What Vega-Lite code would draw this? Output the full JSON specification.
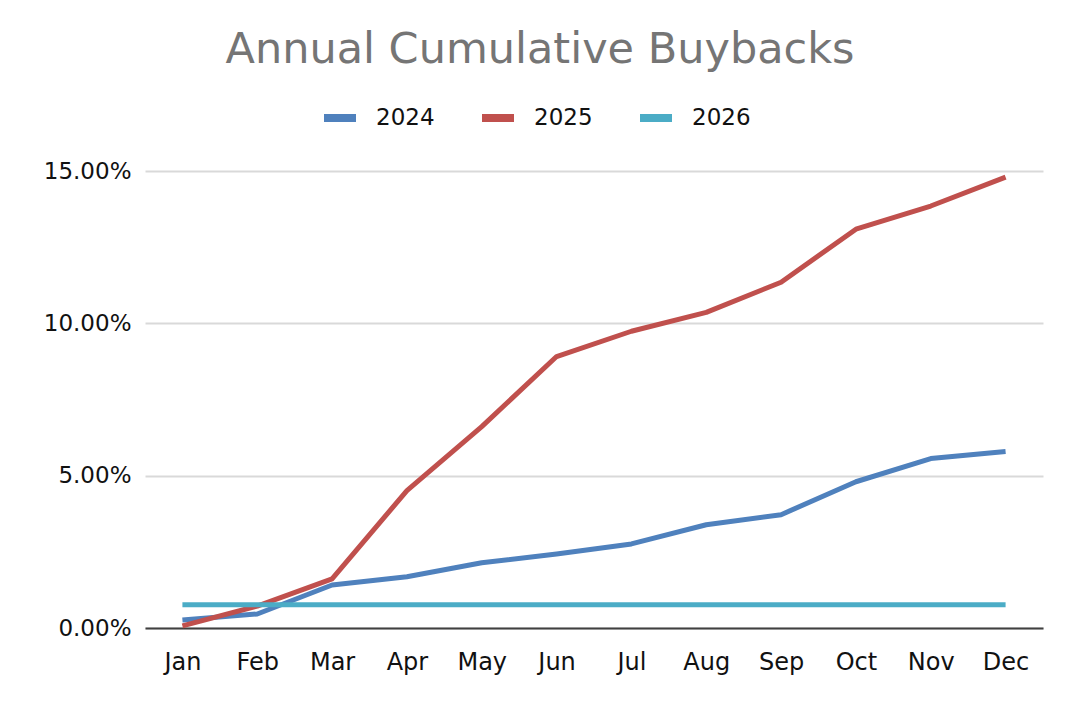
{
  "$schema": "https://vega.github.io/schema/vega-lite/v6.json",
  "autosize": "none",
  "width": 898,
  "height": 457,
  "padding": {"left": 145, "top": 171, "right": 37, "bottom": 80},
  "background": "white",
  "title": {
    "text": "Annual Cumulative Buybacks",
    "anchor": "middle",
    "dx": -54,
    "offset": 26,
    "font": "DejaVu Sans",
    "fontSize": 43,
    "fontWeight": "normal",
    "color": "#757575"
  },
  "data": {
    "values": [
      {"month": "Jan", "year": "2024", "pct": 0.0026},
      {"month": "Feb", "year": "2024", "pct": 0.0046},
      {"month": "Mar", "year": "2024", "pct": 0.0141},
      {"month": "Apr", "year": "2024", "pct": 0.0168},
      {"month": "May", "year": "2024", "pct": 0.0214},
      {"month": "Jun", "year": "2024", "pct": 0.0243},
      {"month": "Jul", "year": "2024", "pct": 0.0276},
      {"month": "Aug", "year": "2024", "pct": 0.0339},
      {"month": "Sep", "year": "2024", "pct": 0.0372},
      {"month": "Oct", "year": "2024", "pct": 0.0480},
      {"month": "Nov", "year": "2024", "pct": 0.0556},
      {"month": "Dec", "year": "2024", "pct": 0.0579},
      {"month": "Jan", "year": "2025", "pct": 0.0007},
      {"month": "Feb", "year": "2025", "pct": 0.0072},
      {"month": "Mar", "year": "2025", "pct": 0.0161},
      {"month": "Apr", "year": "2025", "pct": 0.0451},
      {"month": "May", "year": "2025", "pct": 0.0661},
      {"month": "Jun", "year": "2025", "pct": 0.0891},
      {"month": "Jul", "year": "2025", "pct": 0.0974},
      {"month": "Aug", "year": "2025", "pct": 0.1036},
      {"month": "Sep", "year": "2025", "pct": 0.1135},
      {"month": "Oct", "year": "2025", "pct": 0.1309},
      {"month": "Nov", "year": "2025", "pct": 0.1385},
      {"month": "Dec", "year": "2025", "pct": 0.1480},
      {"month": "Jan", "year": "2026", "pct": 0.0076},
      {"month": "Feb", "year": "2026", "pct": 0.0076},
      {"month": "Mar", "year": "2026", "pct": 0.0076},
      {"month": "Apr", "year": "2026", "pct": 0.0076},
      {"month": "May", "year": "2026", "pct": 0.0076},
      {"month": "Jun", "year": "2026", "pct": 0.0076},
      {"month": "Jul", "year": "2026", "pct": 0.0076},
      {"month": "Aug", "year": "2026", "pct": 0.0076},
      {"month": "Sep", "year": "2026", "pct": 0.0076},
      {"month": "Oct", "year": "2026", "pct": 0.0076},
      {"month": "Nov", "year": "2026", "pct": 0.0076},
      {"month": "Dec", "year": "2026", "pct": 0.0076}
    ]
  },
  "mark": {"type": "line", "strokeWidth": 5, "strokeCap": "butt", "strokeJoin": "round"},
  "encoding": {
    "x": {
      "field": "month",
      "type": "ordinal",
      "sort": ["Jan", "Feb", "Mar", "Apr", "May", "Jun", "Jul", "Aug", "Sep", "Oct", "Nov", "Dec"],
      "scale": {"type": "point", "padding": 0.5},
      "axis": {
        "title": null,
        "labelAngle": 0,
        "labelFont": "DejaVu Sans",
        "labelFontSize": 24,
        "labelColor": "#111111",
        "labelPadding": 22,
        "ticks": false,
        "grid": false,
        "domainColor": "#404040",
        "domainWidth": 2
      }
    },
    "y": {
      "field": "pct",
      "type": "quantitative",
      "scale": {"domain": [0, 0.15], "nice": false},
      "axis": {
        "title": null,
        "format": ".2%",
        "values": [0, 0.05, 0.1, 0.15],
        "labelFont": "DejaVu Sans",
        "labelFontSize": 23,
        "labelColor": "#111111",
        "labelPadding": 14,
        "ticks": false,
        "domain": false,
        "gridColor": "#d9d9d9",
        "gridWidth": 2
      }
    },
    "color": {
      "field": "year",
      "type": "nominal",
      "scale": {"domain": ["2024", "2025", "2026"], "range": ["#4F81BD", "#C0504D", "#4BACC6"]},
      "legend": {
        "title": null,
        "orient": "none",
        "direction": "horizontal",
        "legendX": 175,
        "legendY": -73,
        "symbolType": "stroke",
        "symbolStrokeWidth": 8,
        "symbolSize": 1024,
        "labelFont": "DejaVu Sans",
        "labelFontSize": 23,
        "labelColor": "#111111",
        "labelOffset": 16,
        "columnPadding": 31
      }
    }
  },
  "config": {"view": {"stroke": null}}
}
